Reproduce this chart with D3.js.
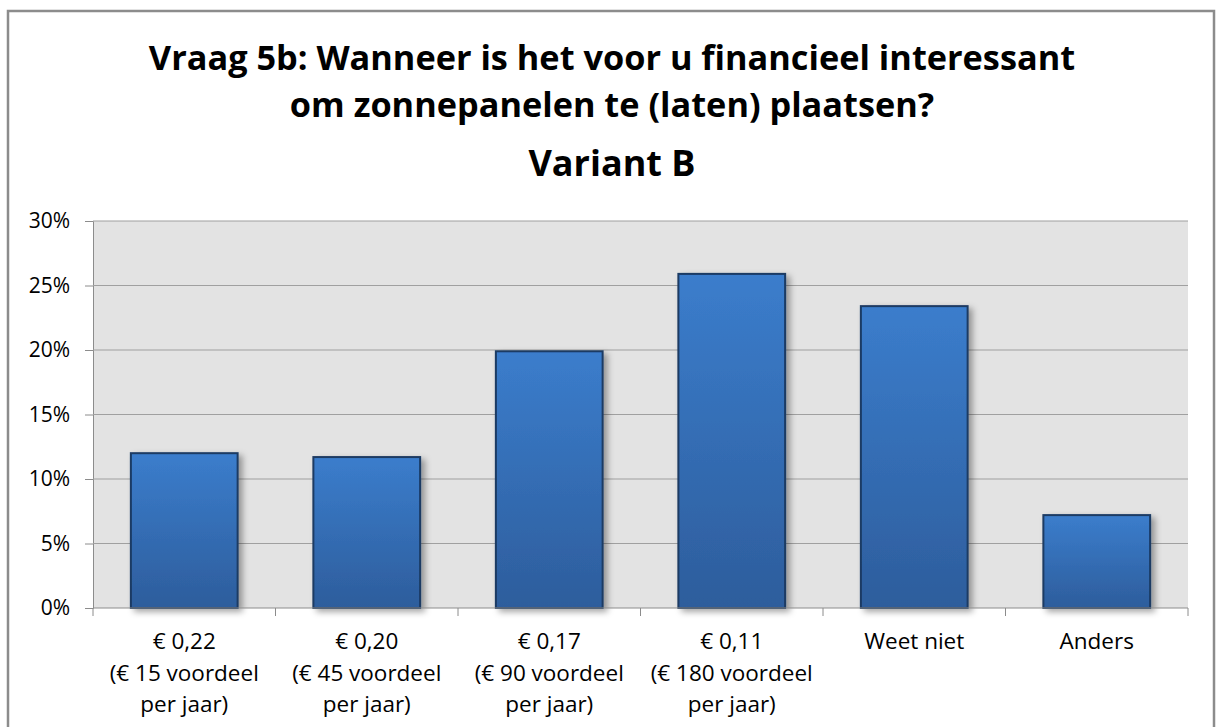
<!DOCTYPE html>
<html>
<head>
<meta charset="utf-8">
<script src="https://cdn.jsdelivr.net/npm/d3@7"></script>
<style>
  body { margin: 0; background: #fff; }
  text { font-family: "Open Sans", "Liberation Sans", sans-serif; fill: #000; }
</style>
</head>
<body>
<svg id="chart" width="1216" height="727"></svg>
<script>
const categories = [
  ["€ 0,22", "(€ 15 voordeel", "per jaar)"],
  ["€ 0,20", "(€ 45 voordeel", "per jaar)"],
  ["€ 0,17", "(€ 90 voordeel", "per jaar)"],
  ["€ 0,11", "(€ 180 voordeel", "per jaar)"],
  ["Weet niet"],
  ["Anders"]
];
const values = [0.120, 0.117, 0.199, 0.259, 0.234, 0.072];
const yTicks = [0, 0.05, 0.10, 0.15, 0.20, 0.25, 0.30];
const titleLines = [
  "Vraag 5b: Wanneer is het voor u financieel interessant",
  "om zonnepanelen te (laten) plaatsen?"
];
const subTitle = "Variant B";

const svg = d3.select('#chart');
const margin = { left: 93, right: 1188, top: 221, bottom: 608 };

// outer frame
svg.append('rect')
  .attr('x', 8).attr('y', 11)
  .attr('width', 1206).attr('height', 730)
  .attr('fill', '#fff')
  .attr('stroke', '#8c8c8c')
  .attr('stroke-width', 2.5);

const defs = svg.append('defs');
const grad = defs.append('linearGradient')
  .attr('id', 'barGrad')
  .attr('x1', 0).attr('y1', 0).attr('x2', 0).attr('y2', 1);
grad.append('stop').attr('offset', '0%').attr('stop-color', '#3b7dcc');
grad.append('stop').attr('offset', '100%').attr('stop-color', '#2d5d9c');

const shadow = defs.append('filter')
  .attr('id', 'shadow')
  .attr('x', '-20%').attr('y', '-20%').attr('width', '150%').attr('height', '150%');
shadow.append('feDropShadow')
  .attr('dx', 4).attr('dy', 3)
  .attr('stdDeviation', 3)
  .attr('flood-color', '#000')
  .attr('flood-opacity', 0.35);

const x = d3.scaleBand()
  .domain(d3.range(categories.length))
  .range([margin.left, margin.right])
  .paddingInner(0.415)
  .paddingOuter(0.2075);

const y = d3.scaleLinear()
  .domain([0, 0.30])
  .range([margin.bottom, margin.top]);

// plot background
svg.append('rect')
  .attr('x', margin.left).attr('y', margin.top)
  .attr('width', margin.right - margin.left)
  .attr('height', margin.bottom - margin.top)
  .attr('fill', '#e3e3e3');

// gridlines + y axis
const yAxis = d3.axisLeft(y)
  .tickValues(yTicks)
  .tickFormat(d3.format('.0%'))
  .tickSize(8)
  .tickPadding(15);

const yG = svg.append('g')
  .attr('transform', `translate(${margin.left},0)`)
  .call(yAxis);
yG.select('.domain').attr('stroke', '#8c8c8c');
yG.selectAll('.tick line').attr('stroke', '#8c8c8c');
yG.selectAll('.tick text')
  .style('font-size', '21px');

svg.append('g')
  .selectAll('line')
  .data(yTicks.filter(d => d > 0))
  .enter()
  .append('line')
  .attr('x1', margin.left).attr('x2', margin.right)
  .attr('y1', d => y(d)).attr('y2', d => y(d))
  .attr('stroke', '#a0a0a0')
  .attr('stroke-width', 1.2);

// bars
svg.append('g')
  .selectAll('rect')
  .data(values)
  .enter()
  .append('rect')
  .attr('x', (d, i) => x(i))
  .attr('y', d => y(d))
  .attr('width', x.bandwidth())
  .attr('height', d => y(0) - y(d))
  .attr('fill', 'url(#barGrad)')
  .attr('stroke', '#1c3a63')
  .attr('stroke-width', 2)
  .attr('filter', 'url(#shadow)');

// x axis line + ticks at category boundaries
const boundaries = d3.range(categories.length + 1).map(i => margin.left + i * (margin.right - margin.left) / categories.length);
svg.append('line')
  .attr('x1', margin.left).attr('x2', margin.right)
  .attr('y1', margin.bottom).attr('y2', margin.bottom)
  .attr('stroke', '#8c8c8c');
svg.append('g')
  .selectAll('line')
  .data(boundaries)
  .enter()
  .append('line')
  .attr('x1', d => d).attr('x2', d => d)
  .attr('y1', margin.bottom).attr('y2', margin.bottom + 8)
  .attr('stroke', '#8c8c8c');

// x labels
const xl = svg.append('g')
  .selectAll('text')
  .data(categories)
  .enter()
  .append('text')
  .attr('text-anchor', 'middle')
  .style('font-size', '22.5px');
xl.selectAll('tspan')
  .data((d, i) => d.map(t => ({ t, i })))
  .enter()
  .append('tspan')
  .attr('x', d => x(d.i) + x.bandwidth() / 2)
  .attr('y', (d, j) => 649 + j * 31.5)
  .text(d => d.t);

// title
svg.append('g')
  .selectAll('text')
  .data(titleLines)
  .enter()
  .append('text')
  .attr('x', 612)
  .attr('y', (d, i) => 70 + i * 47)
  .attr('text-anchor', 'middle')
  .style('font-size', '34.3px')
  .style('font-weight', 'bold')
  .text(d => d);

svg.append('text')
  .attr('x', 612)
  .attr('y', 176)
  .attr('text-anchor', 'middle')
  .style('font-size', '36px')
  .style('font-weight', 'bold')
  .text(subTitle);
</script>
</body>
</html>
